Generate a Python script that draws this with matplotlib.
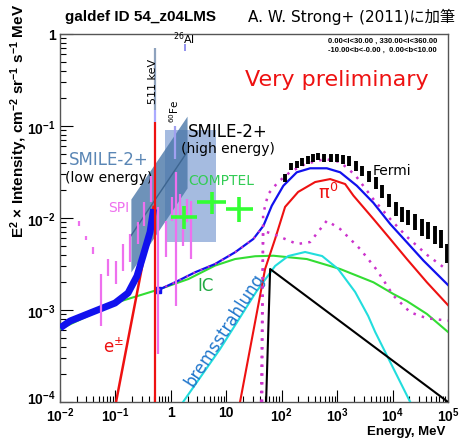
import matplotlib
matplotlib.use("Agg")
import matplotlib.pyplot as plt
import matplotlib.transforms as mtransforms

plt.rcParams['font.family'] = ['Liberation Sans', 'DejaVu Sans', 'Noto Sans CJK JP']
plt.rcParams['mathtext.default'] = 'regular'

# ---- data ----
# Fermi points: energy (MeV), lower and upper intensity
fermi_e = [115, 146, 187, 237, 296, 364, 459, 590, 769, 989, 1268, 1648, 2178, 2864,
           3784, 5000, 6577, 8690, 11480, 14720, 19360, 25590, 33810, 44460, 58750, 75340, 95500]
fermi_lo = [0.0246, 0.0335, 0.0349, 0.0370, 0.0389, 0.0409, 0.0431, 0.0409, 0.0409, 0.0403,
            0.0386, 0.0370, 0.0327, 0.0288, 0.0248, 0.0207, 0.0165, 0.0132, 0.0105, 0.00906,
            0.00839, 0.00741, 0.00637, 0.00592, 0.00521, 0.00472, 0.00324]
fermi_hi = [0.0301, 0.0396, 0.0420, 0.0446, 0.0469, 0.0497, 0.0509, 0.0497, 0.0497, 0.0497,
            0.0484, 0.0469, 0.0420, 0.0370, 0.0327, 0.0279, 0.0229, 0.0182, 0.0149, 0.0132,
            0.0122, 0.0110, 0.00975, 0.00906, 0.00818, 0.00741, 0.00521]

# SPI points
spi_e = [0.0220, 0.0294, 0.0399, 0.0543, 0.0745, 0.101, 0.136, 0.184, 0.253, 0.333,
         0.440, 0.594, 0.818, 1.04, 1.24, 1.47, 1.68, 1.94, 2.29]
spi_lo = [8.13e-3, 5.81e-3, 4.06e-3, 6.75e-4, 2.36e-3, 1.92e-3, 2.67e-3, 3.30e-3, 5.21e-3, 8.24e-3,
          0.0148, 3.33e-4, 3.74e-3, 9.35e-3, 1.11e-3, 9.75e-3, 5.00e-3, 8.97e-3, 3.58e-3]
spi_hi = [9.35e-3, 6.43e-3, 4.81e-3, 2.46e-3, 3.58e-3, 3.44e-3, 5.21e-3, 6.70e-3, 8.97e-3, 0.0148,
          0.0288, 0.0131, 9.35e-3, 0.0168, 0.0316, 0.0182, 0.0131, 0.0161, 0.0154]

# COMPTEL points
comptel_elo = [1, 3, 10]
comptel_ehi = [3, 10, 30]
comptel_e = [1.73, 5.48, 17.3]
comptel_i = [0.0102, 0.0148, 0.0125]
comptel_ilo = [0.00759, 0.0110, 0.00897]
comptel_ihi = [0.0136, 0.0190, 0.0168]

# SMILE-2+ sensitivity regions
smile_low_e = [0.19, 1.96]
smile_low_bot = [0.00259, 0.0212]
smile_low_top = [0.0161, 0.128]
smile_low_mid = [0.0064, 0.052]
smile_high_e = [0.769, 6.55]
smile_high_i = [0.00548, 0.0906]

# model components
total_low_e = [0.01, 0.0152, 0.0348, 0.0984, 0.169, 0.245, 0.315, 0.422, 0.488]
total_low_i = [6.37e-4, 7.59e-4, 9.27e-4, 1.19e-3, 1.53e-3, 2.34e-3, 3.86e-3, 7.05e-3, 0.0125]

total_e = [0.594, 1.19, 2.74, 6.28, 14.4, 30.8, 46.8, 66.2, 107, 187, 326, 652, 1133, 2268,
           4520, 9057, 18130, 36140, 1e5]
total_i = [1.65e-3, 2.00e-3, 2.57e-3, 3.16e-3, 4.24e-3, 5.92e-3, 8.24e-3, 0.0136, 0.0224, 0.0314,
           0.0347, 0.0347, 0.0314, 0.0224, 0.0146, 8.61e-3, 5.44e-3, 3.44e-3, 1.87e-3]

pi0_e = [17.7, 33.1, 50.1, 76.0, 115, 198, 401, 748, 1393, 1968, 4520, 9057, 18130, 41590, 1e5]
pi0_i = [1e-4, 7.41e-4, 2.79e-3, 5.92e-3, 0.0132, 0.0192, 0.0246, 0.0265, 0.0234, 0.0175,
         9.75e-3, 5.92e-3, 3.58e-3, 2.00e-3, 1.13e-3]

ic_e = [0.01, 0.0348, 0.111, 0.564, 2.07, 6.28, 14.4, 33.1, 70.8, 284, 1133, 4520, 10380,
        18130, 41590, 1e5]
ic_i = [6.21e-4, 8.83e-4, 1.22e-3, 1.65e-3, 2.17e-3, 3.04e-3, 3.58e-3, 3.84e-3, 3.89e-3, 3.58e-3,
        2.79e-3, 2.00e-3, 1.49e-3, 1.25e-3, 9.06e-4, 5.77e-4]

brems_e = [1.66, 7.73, 34.5, 76.0, 131, 264, 536, 1042, 2113, 3630, 4856, 9057, 20800]
brems_i = [1e-4, 3.77e-4, 1.57e-3, 3.01e-3, 3.86e-3, 4.27e-3, 3.86e-3, 2.79e-3, 1.57e-3,
           8.61e-4, 5.77e-4, 2.72e-4, 1e-4]

black_e = [52.3, 61.8, 1e5]
black_i = [1e-4, 2.79e-3, 1.0e-4]

epm_e = [0.1026, 0.488]
epm_i = [1e-4, 0.0132]

dot_hi_e = [44.3, 46.2, 56.9, 86.1, 142, 264, 607, 1133, 2113, 4467, 9057, 18360, 42170, 96800]
dot_hi_i = [1e-4, 0.0110, 0.0182, 0.0246, 0.0316, 0.0386, 0.0438, 0.0406, 0.0293, 0.0161,
            0.00975, 0.00621, 0.00396, 0.00272]
dot_lo_e = [42.5, 46.2, 70.0, 190, 326, 652, 1133, 2600, 5212, 10380, 20800, 41590, 1e5]
dot_lo_i = [1e-4, 0.00723, 0.00670, 0.00521, 0.00548, 0.00935, 0.00759, 0.00460, 0.00272,
            0.00143, 0.000944, 0.000813, 0.000766]

line_511_e = 0.511
fe60_e = 1.17
al26_e = 1.809

# ---- figure ----
fig = plt.figure(figsize=(4.63, 4.39), dpi=100)
ax = fig.add_axes([60 / 463, 1 - 403 / 439, 388 / 463, 368 / 439])
ax.set_xscale('log')
ax.set_yscale('log')
ax.set_xlim(1e-2, 1e5)
ax.set_ylim(1e-4, 1)

# SMILE-2+ regions
ax.fill_between(smile_high_e, smile_high_i[0], smile_high_i[1], color='#87a5d6', alpha=0.75,
                lw=0, zorder=1)
ax.fill_between(smile_low_e, smile_low_bot, smile_low_top, color='#4a77a8', alpha=0.8,
                lw=0, zorder=1)
ax.plot(smile_low_e, smile_low_mid, color='#3d6590', lw=1, zorder=1)

# models
ax.plot(ic_e, ic_i, color='#33dd33', lw=1.5, zorder=3)
ax.plot(brems_e, brems_i, color='#22dddd', lw=1.5, zorder=3)
ax.plot(black_e, black_i, color='black', lw=1.5, zorder=3)
ax.plot(pi0_e, pi0_i, color='#ee1111', lw=1.5, zorder=3)
ax.plot(epm_e, epm_i, color='#ee1111', lw=1.8, zorder=4)
ax.plot(total_e, total_i, color='#1111ee', lw=1.6, zorder=4)
ax.plot(total_low_e, total_low_i, color='#1111ee', lw=5, solid_capstyle='butt', zorder=4)
ax.plot([total_e[0]], [total_i[0]], 's', color='#1111ee', ms=4.5, zorder=5)
ax.plot(dot_hi_e, dot_hi_i, color='#cc33cc', lw=1.8, ls=(0, (1, 2.5)), zorder=4)
ax.plot(dot_lo_e, dot_lo_i, color='#cc33cc', lw=1.8, ls=(0, (1, 2.5)), zorder=4)
ax.plot(total_e[:7], total_i[:7], color='#cc33cc', lw=1.4, ls=(0, (1, 3)), zorder=5)

# lines
ax.vlines(line_511_e, 1e-4, 0.110, color='#ee1111', lw=1.6, zorder=6)
ax.vlines(line_511_e, 0.110, 0.148, color='#aaaaff', lw=1.6, zorder=6)
ax.vlines(line_511_e, 0.148, 0.71, color='#8ea2bd', lw=1.6, zorder=2)
ax.vlines(fe60_e, 0.0438, 0.1007, color='#a0a0f0', lw=1.6, zorder=6)
ax.vlines(al26_e, 0.653, 0.778, color='#9090ee', lw=1.4, zorder=6)

# data
ax.vlines(spi_e, spi_lo, spi_hi, color='#ee70ee', lw=1.6, zorder=5)
ax.vlines(fermi_e, fermi_lo, fermi_hi, color='black', lw=2.8, zorder=6)
ax.hlines(comptel_i, comptel_elo, comptel_ehi, color='#33ff33', lw=2.6, zorder=6)
ax.vlines(comptel_e, comptel_ilo, comptel_ihi, color='#33ff33', lw=2.6, zorder=6)

# axes style
ax.set_xticks([1e-2, 1e-1, 1, 10, 1e2, 1e3, 1e4, 1e5],
              ['10$^{-2}$', '10$^{-1}$', '1', '10', '10$^{2}$', '10$^{3}$', '10$^{4}$', '10$^{5}$'])
ax.set_yticks([1e-4, 1e-3, 1e-2, 1e-1, 1],
              ['10$^{-4}$', '10$^{-3}$', '10$^{-2}$', '10$^{-1}$', '1'])
ax.tick_params(which='major', direction='in', length=9, width=0.8, labelsize=10, pad=3)
ax.tick_params(axis='x', which='major', pad=2.5)
ax.tick_params(which='minor', direction='in', length=4.5, width=0.8)
for lab in ax.get_xticklabels() + ax.get_yticklabels():
    lab.set_fontweight('bold')
# lift the bottom y label a little so it clears the first x label
low_lab = ax.get_yticklabels()[0]
low_lab.set_transform(low_lab.get_transform()
                      + mtransforms.ScaledTranslation(0, 4 / 72, fig.dpi_scale_trans))
for s in ax.spines.values():
    s.set_color('#555555')
    s.set_linewidth(1)

# text
ann = dict(family=['DejaVu Sans'], transform=ax.transAxes, ha='center', va='center')
ax.text(0.240, 0.875, '511 keV', fontsize=8, rotation=90, zorder=7, **ann)
ax.text(0.294, 0.793, '$^{60}$Fe', fontsize=7.5, rotation=90, **ann)
ax.text(0.320, 0.990, '$^{26}$Al', fontsize=8, **ann)
ax.text(0.477, 0.878, 'Very preliminary', fontsize=16, color='#ee1111',
        family=['DejaVu Sans'], transform=ax.transAxes, ha='left', va='center')
ax.text(0.126, 0.660, 'SMILE-2+', fontsize=12, color='#5a86b5', **ann)
ax.text(0.126, 0.611, '(low energy)', fontsize=10, **ann)
ax.text(0.433, 0.736, 'SMILE-2+', fontsize=12, **ann)
ax.text(0.433, 0.690, '(high energy)', fontsize=10, **ann)
ax.text(0.415, 0.603, 'COMPTEL', fontsize=10, color='#33cc55', **ann)
ax.text(0.152, 0.530, 'SPI', fontsize=10, color='#ee70ee', **ann)
ax.text(0.856, 0.630, 'Fermi', fontsize=10, **ann)
ax.text(0.691, 0.571, 'π$^{0}$', fontsize=13, color='#ee1111', **ann)
ax.text(0.374, 0.318, 'IC', fontsize=12, color='#22aa44', **ann)
ax.text(0.139, 0.152, 'e$^{\\pm}$', fontsize=12, color='#ee1111', **ann)
ax.text(0.425, 0.198, 'bremsstrahlung', fontsize=12, color='#2277cc', rotation=57, **ann)
ax.text(0.972, 0.984, '0.00<l<30.00 , 330.00<l<360.00', fontsize=5.5, fontweight='bold',
        transform=ax.transAxes, ha='right', va='center')
ax.text(0.972, 0.959, '-10.00<b<-0.00 ,  0.00<b<10.00', fontsize=5.5, fontweight='bold',
        transform=ax.transAxes, ha='right', va='center')

fig.text(65 / 463, 1 - 17 / 439, 'galdef ID 54_z04LMS', fontsize=11, fontweight='bold',
         ha='left', va='center')
fig.text(455 / 463, 1 - 17 / 439, 'A. W. Strong+ (2011)に加筆', fontsize=11,
         family=['DejaVu Sans', 'Noto Sans CJK JP'], ha='right', va='center')
fig.text(445 / 463, 0.5 / 439, 'Energy, MeV', fontsize=9.5, fontweight='bold',
         ha='right', va='bottom')
fig.text(19 / 463, 1 - 4 / 439,
         'E$^{2}$ × Intensity, cm$^{-2}$ sr$^{-1}$ s$^{-1}$ MeV',
         fontsize=11, fontweight='bold', rotation=90, ha='center', va='top')

fig.savefig('out.png', dpi=100)
